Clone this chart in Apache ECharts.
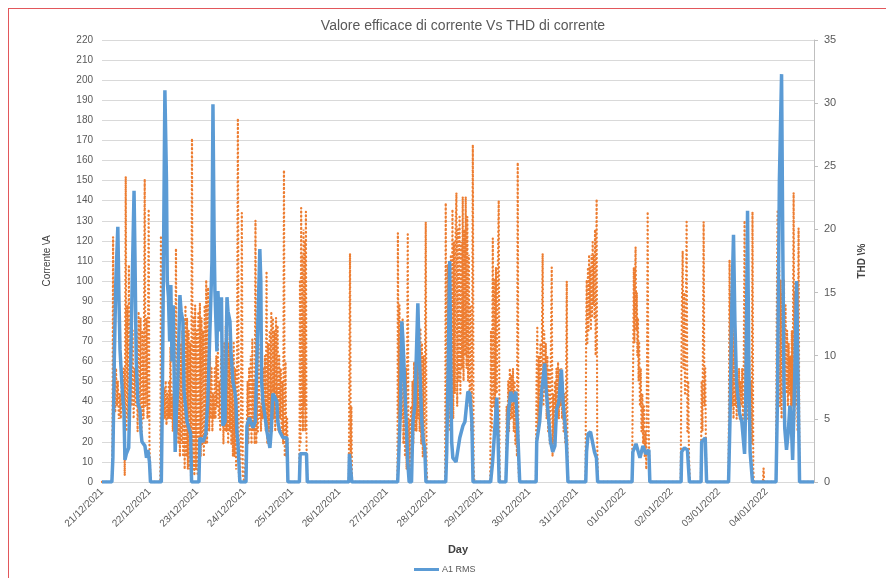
<!DOCTYPE html>
<html>
<head>
<meta charset="utf-8">
<script src="https://cdn.jsdelivr.net/npm/echarts@6/dist/echarts.min.js"></script>
<style>
  html, body { margin: 0; padding: 0; background: #fff; }
  #chart { position: absolute; left: 0; top: 0; width: 886px; height: 578px; }
  #frame { position: absolute; left: 8px; top: 8px; width: 900px; height: 600px; border: 1px solid #e2575b; pointer-events: none; }
</style>
</head>
<body>
<div id="chart"></div>
<div id="frame"></div>
<script>
// giorni sull'asse x (un tick ogni 24 ore)
var dayLabels = ['21/12/2021', '22/12/2021', '23/12/2021', '24/12/2021', '25/12/2021',
  '26/12/2021', '27/12/2021', '28/12/2021', '29/12/2021', '30/12/2021', '31/12/2021',
  '01/01/2022', '02/01/2022', '03/01/2022', '04/01/2022'];

// A1 RMS [ore dall'inizio, corrente A]
var rmsData = [
  [0,0],[5,0],[5.5,12],[6.2,60],[7,100],[8,127],[8.6,90],[9.1,66],[10,50],[10.6,41],[11.1,35],[11.6,11],
  [12.3,14],[13.5,17],[14.5,60],[16.2,145],[16.7,110],[17.3,60],[18.2,39],[19.2,36],[19.7,25],[20.2,20],
  [21.7,18],[22.5,12],[23.2,16],[24,10],[24.5,0],
  [30,0],[30.5,40],[31.8,195],[32.6,150],[33,100],[33.6,92],[34.2,70],[34.8,98],[35.4,60],[36,88],[36.6,45],
  [37,15],[37.6,35],[38.2,45],[39.4,93],[40,85],[40.9,80],[41.5,45],[43,30],[44,30],[44.8,24],[45.3,0],
  [49,0],[49.5,22],[51,20],[52.5,24],[53.5,40],[55.6,110],[56.1,188],[56.7,120],[57.1,95],[58.1,65],[58.6,95],
  [59.6,75],[60.4,92],[61.1,28],[62.2,30],[63.2,92],[63.7,85],[64.7,80],[65.2,65],[66.2,50],[67.2,45],
  [67.7,40],[68.2,25],[68.7,20],[69.7,0],
  [72.8,0],[73.3,28],[74.5,32],[76.3,27],[77.5,30],[78.3,60],[79.8,116],[80.3,100],[80.7,50],[81.4,40],
  [82.4,33],[83.4,25],[84.9,17],[85.5,25],[86.4,44],[87.5,42],[88.4,40],[88.9,30],[89.9,25],[91.5,22],
  [93.5,22],[94,0],
  [99.8,0],[100.2,14],[103.4,14],[103.8,0],
  [124.8,0],[125.1,14],[126,14],[126.3,0],
  [149.5,0],[150,12],[151,40],[151.6,80],[152.1,72],[153,50],[153.8,30],[154.6,10],[155.3,0],[156.5,0],
  [157.2,30],[158.2,38],[158.7,55],[159.7,89],[160.2,70],[160.7,56],[161.7,30],[162.5,20],[163.2,17],[163.8,0],
  [173.8,0],[174.3,15],[175.1,60],[175.8,110],[176.3,60],[176.8,20],[177.4,12],[179,10],[180.9,22],[182.5,28],
  [183.5,30],[185,45],[186,44],[187,30],[187.6,0],
  [196.5,0],[197.5,10],[198.5,25],[199.6,42],[200.3,20],[200.8,0],
  [204.2,0],[204.7,15],[205.5,35],[206.7,45],[207.7,40],[208.5,42],[209.2,45],[210,30],[210.8,10],[211.2,0],
  [219.5,0],[219.8,20],[221.3,30],[222.3,45],[223.4,55],[223.8,59],[224.5,47],[225.3,47],[226.8,20],[227.9,15],
  [229,18],[229.8,36],[231,40],[232.3,56],[233.1,40],[234,30],[234.8,20],[235.6,0],
  [244.6,0],[245,15],[245.8,24],[247,25],[248,20],[249,15],[250,12],[250.6,0],
  [268,0],[268.4,15],[270,19],[272,12],[273.5,18],[275,14],[276.5,16],[277,0],
  [292.8,0],[293.1,15],[294.5,17],[296,16],[297,0],
  [302.9,0],[303.2,20],[305,22],[305.7,0],
  [316.8,0],[317.5,30],[318.5,90],[319.3,123],[320,80],[320.8,50],[322.4,34],[323.5,30],[324.9,14],[325.5,40],
  [326.4,135],[327,60],[327.7,15],[328.9,0],
  [340.8,0],[341.5,40],[342.5,150],[343.6,203],[344.2,120],[344.8,50],[345.2,27],[346.1,16],[347,25],[347.8,38],
  [348.5,30],[349.2,11],[350.2,50],[351.2,100],[351.8,60],[352.7,0],[360,0]
];

// THD di corrente [ore dall'inizio, %]
var thdData = [
  [0,0],[5,0],[5.3,3],[5.6,19.4],[5.9,6],[6.3,10],[6.7,5.5],[7.1,9],[7.5,6],[8,8],[8.5,5],[9,7],[9.5,5],[10,8.5],
  [10.5,6],[11,9],[11.5,0.5],[12,24.2],[12.4,4],[12.8,14],[13.2,5],[13.6,17.2],[14,8],[14.5,10],[15,6],[15.5,12],
  [16,5],[16.5,9],[17,6],[17.5,12],[18,4],[18.5,13.5],[19,5],[19.5,13],[20,4],[20.5,12],[21,5],[21.6,24],[22,6],
  [22.5,13],[23,5],[23.6,21.6],[24,3],[24.5,0],
  [29.5,0],[29.8,19.5],[30.2,3],[30.6,8],[31,5],[31.4,7.5],[31.8,5],[32.2,8],[32.6,4.5],[33,7],[33.4,5],[33.8,8],
  [34.2,5],[34.6,10.7],[35,5],[35.4,7],[35.8,4],[36.2,8],[36.6,5],[37,6],[37.4,18.5],[37.8,4],[38.2,7],[38.6,3],
  [39,9],[39.4,2],[39.8,11],[40.2,3],[40.6,12],[41,2],[41.4,13],[41.8,1],[42.2,14],[42.6,2],[43,13],[43.4,1],
  [43.8,12],[44.2,1],[44.6,11],[45,0.5],[45.5,27.2],[45.9,1],[46.3,13],[46.7,0.5],[47.1,14],[47.5,1],[47.9,12],
  [48.3,0.5],[48.7,13.5],[49.1,1],[49.5,14.2],[49.9,2],[50.3,13],[50.7,3],[51.1,12],[51.5,2],[51.9,14],[52.3,3],
  [52.7,16],[53.1,3],[53.6,15.4],[54.2,4],[54.6,10],[55,5],[55.4,9],[55.8,4],[56.2,7],[56.6,5],[57,9],[57.4,5],
  [57.8,10],[58.2,6],[58.6,11],[59,5],[59.4,8],[59.8,4],[60.2,10],[60.6,5],[61,9],[61.4,3],[61.8,11],[62.2,4],
  [62.6,12.4],[63,4],[63.4,12],[63.8,3],[64.2,11],[64.6,4],[65,12],[65.4,3],[65.8,10],[66.2,2],[66.6,11],[67,2],
  [67.4,9],[67.8,1],[68.2,6],[68.7,28.8],[69.2,0.5],[69.7,0],[70.2,3],[70.7,21.3],[71.2,0.5],[72,0],
  [72.8,0],[73.2,4],[73.6,8],[74,3],[74.4,9],[74.8,4],[75.2,10],[75.6,3],[76,11.3],[76.4,4],[76.8,8],[77.2,3],
  [77.6,20.7],[78,3],[78.4,7],[78.8,4],[79.2,11],[79.6,5],[80,6],[80.4,4],[80.8,8],[81.2,5],[81.6,9],[82,5],
  [82.4,10],[82.8,4],[83.2,16.7],[83.6,3],[84,11],[84.4,4],[84.8,12],[85.2,3],[85.6,13.5],[86,4],[86.4,13],
  [86.8,5],[87.2,12],[87.6,4],[88,13],[88.4,5],[88.8,12.4],[89.2,4],[89.6,10],[90,5],[90.4,9],[90.8,4],[91.2,8],
  [91.6,3],[92,24.7],[92.4,2],[92.8,9.5],[93.2,2],[93.6,5],[94,0],
  [99.8,0],[100.1,16],[100.4,3],[100.7,21.7],[101,5],[101.3,18],[101.6,4],[101.9,20],[102.2,6],[102.5,19],
  [102.8,4],[103.1,21.4],[103.4,3],[103.8,0],
  [124.8,0],[125.1,10],[125.4,18.1],[125.8,2],[126.1,6],[126.4,0],
  [149.4,0],[149.6,19.7],[150,5],[150.4,14],[150.8,4],[151.2,12],[151.6,5],[152,13],[152.4,3],[152.8,10],
  [153.2,2],[153.6,9],[154,1],[154.6,19.6],[155,1],[155.4,5],[155.8,0.5],[156.2,6],[156.6,2],[157,8],[157.4,3],
  [157.8,9.5],[158.2,4],[158.6,8],[159,4],[159.4,10],[159.8,5],[160.2,11],[160.6,4],[161,12.2],[161.4,3],
  [161.8,11],[162.2,2],[162.6,10],[163,2],[163.3,9],[163.7,20.6],[164.1,1],[164.5,0],
  [173.5,0],[173.8,22.1],[174.2,3],[174.8,17.2],[175.2,5],[175.6,15],[176,4],[176.4,18],[176.8,6],[177.2,21.6],
  [177.6,5],[178,19],[178.4,7],[178.8,20],[179.2,22.9],[179.6,6],[180,20],[180.4,8],[180.8,21],[181.2,7],
  [181.6,19],[182,9],[182.4,22.6],[182.8,8],[183.2,20],[183.6,10],[183.9,22.6],[184.3,9],[184.7,21],[185.1,8],
  [185.5,18],[185.9,6],[186.3,14],[186.7,4],[187.1,9],[187.5,26.7],[187.9,1],[188.3,0],
  [196.3,0],[196.7,12],[197.1,4],[197.6,19.3],[198,6],[198.4,16],[198.8,5],[199.2,17],[199.6,7],[200,15],
  [200.6,22.3],[201,1],[201.4,0],
  [204.2,0],[204.6,6],[205,3],[205.4,8],[205.8,4],[206.2,9],[206.6,5],[207,8.5],[207.4,5],[207.8,9],[208.2,4],
  [208.6,8],[209,3],[209.4,7],[209.8,2],[210.2,25.3],[210.6,1],[211,0],
  [219.4,0],[219.7,8],[220.1,12.2],[220.5,4],[220.9,10],[221.3,5],[221.7,11],[222.1,6],[222.8,18.1],[223.2,6],
  [223.6,12],[224,7],[224.4,11],[224.8,5],[225.2,10],[225.6,4],[226,9],[226.4,3],[226.8,8],[227.4,17],[227.8,2],
  [228.2,7],[228.6,3],[229,8],[229.4,4],[229.8,9],[230.2,5],[230.6,9.5],[231,5],[231.4,9],[231.8,6],[232.2,9],
  [232.6,5],[233,8],[233.4,4],[233.8,7],[234.2,3],[234.6,6],[235,15.9],[235.4,1],[235.8,0],
  [244.5,0],[244.8,12],[245.1,16],[245.4,11],[245.7,17],[246,12],[246.3,18],[246.6,13],[246.9,17],[247.2,12],
  [247.5,18],[247.8,13],[248.1,19],[248.4,14],[248.7,18],[249,13],[249.3,20],[249.6,10],[250.1,22.4],[250.4,3],
  [250.7,0],
  [268,0],[268.3,6],[268.6,10],[268.9,17],[269.2,11],[269.5,16],[269.8,18.6],[270.1,12],[270.4,15],[270.7,10],
  [271,13],[271.3,8],[271.6,11],[272,6],[272.4,9],[272.8,4],[273.2,7],[273.6,3],[274,6],[274.4,2],[274.8,4],
  [275.2,1],[275.6,10],[275.9,21.4],[276.3,5],[276.7,2],[277,0],
  [292.6,0],[292.9,8],[293.2,14],[293.6,18.3],[294,9],[294.4,15],[294.8,7],[295.2,13],[295.6,20.6],[296,4],
  [296.4,8],[296.8,2],[297.2,0],
  [302.8,0],[303.2,8],[303.6,4],[304.2,20.6],[304.6,6],[305,9],[305.4,2],[305.8,0],
  [316.8,0],[317.1,10],[317.3,17.6],[317.7,8],[318.1,15],[318.5,6],[318.9,13],[319.3,5],[319.7,12],[320.1,6],
  [320.5,10],[320.9,5],[321.3,8],[321.7,6],[322.1,9],[322.5,5],[322.9,8],[323.3,6],[323.7,9],[324.1,5],[324.5,10],
  [324.9,20.7],[325.3,6],[325.7,14],[326.1,5],[326.5,12],[326.9,6],[327.3,10],[327.7,4],[328.1,8],[328.5,3],
  [328.9,21.4],[329.3,1],[329.6,0],
  [334.2,0],[334.5,1.1],[334.8,0],
  [340.8,0],[341.1,12],[341.6,21.4],[342,8],[342.4,17],[342.8,6],[343.2,16],[343.6,5],[344,15],[344.4,7],
  [344.8,16],[345.2,8],[345.6,14],[346,7],[346.4,12],[346.8,6],[347.2,11],[347.6,7],[348,10],[348.4,5],[348.8,12],
  [349.2,6],[349.7,22.9],[350.1,5],[350.5,15],[350.9,6],[351.3,12],[351.7,4],[352.2,20.1],[352.6,1],[353,0],[360,0]
];

var chart = echarts.init(document.getElementById('chart'));
var font = 'Liberation Sans, Arial, sans-serif';

var option = {
  animation: false,
  backgroundColor: '#fff',
  textStyle: { fontFamily: font },
  title: {
    text: 'Valore efficace di corrente Vs THD di corrente',
    left: 458,
    top: 14,
    textAlign: 'center',
    textStyle: { fontSize: 14, fontWeight: 'normal', color: '#595959', fontFamily: font }
  },
  legend: {
    data: ['A1 RMS'],
    left: 409,
    top: 560,
    icon: 'rect',
    itemWidth: 25,
    itemHeight: 3,
    itemGap: 3,
    textStyle: { fontSize: 9, color: '#595959', fontFamily: font, padding: [0, 0, 0, -2] }
  },
  grid: { left: 102, right: 72, top: 40, bottom: 96 },
  xAxis: {
    type: 'value',
    min: 0,
    max: 360,
    interval: 24,
    name: 'Day',
    nameLocation: 'middle',
    nameGap: 62,
    nameTextStyle: { fontSize: 11, fontWeight: 'bold', color: '#404040' },
    axisLine: { show: true, lineStyle: { color: '#d9d9d9' } },
    axisTick: { show: false },
    splitLine: { show: false },
    axisLabel: {
      rotate: 45,
      fontSize: 10,
      color: '#595959',
      margin: 8,
      formatter: function (v) { return dayLabels[v / 24] || ''; }
    }
  },
  yAxis: [{
    type: 'value',
    min: 0,
    max: 220,
    interval: 10,
    name: 'Corrente \\A',
    nameLocation: 'middle',
    nameGap: 50,
    nameRotate: 90,
    nameTextStyle: { fontSize: 10, color: '#404040' },
    axisLine: { show: false },
    axisTick: { show: false },
    axisLabel: { fontSize: 10, color: '#595959', margin: 9 },
    splitLine: { lineStyle: { color: '#d9d9d9', width: 1 } }
  }, {
    type: 'value',
    min: 0,
    max: 35,
    interval: 5,
    name: 'THD \\%',
    nameLocation: 'middle',
    nameGap: 43,
    nameRotate: 90,
    nameTextStyle: { fontSize: 10, fontWeight: 'bold', color: '#404040' },
    axisLine: { show: true, lineStyle: { color: '#bfbfbf' } },
    axisTick: { show: true, length: 4, lineStyle: { color: '#bfbfbf' } },
    axisLabel: { fontSize: 11, color: '#595959', margin: 10 },
    splitLine: { show: false }
  }],
  series: [{
    name: 'THD',
    type: 'line',
    yAxisIndex: 1,
    symbol: 'none',
    data: thdData,
    lineStyle: { color: '#ed7d31', width: 2.3, type: [0.3, 3.8], cap: 'round' },
    itemStyle: { color: '#ed7d31' },
    z: 2
  }, {
    name: 'A1 RMS',
    type: 'line',
    yAxisIndex: 0,
    symbol: 'none',
    data: rmsData,
    lineStyle: { color: '#5b9bd5', width: 3.5 },
    itemStyle: { color: '#5b9bd5' },
    z: 3
  }]
};

chart.setOption(option);
</script>
</body>
</html>
